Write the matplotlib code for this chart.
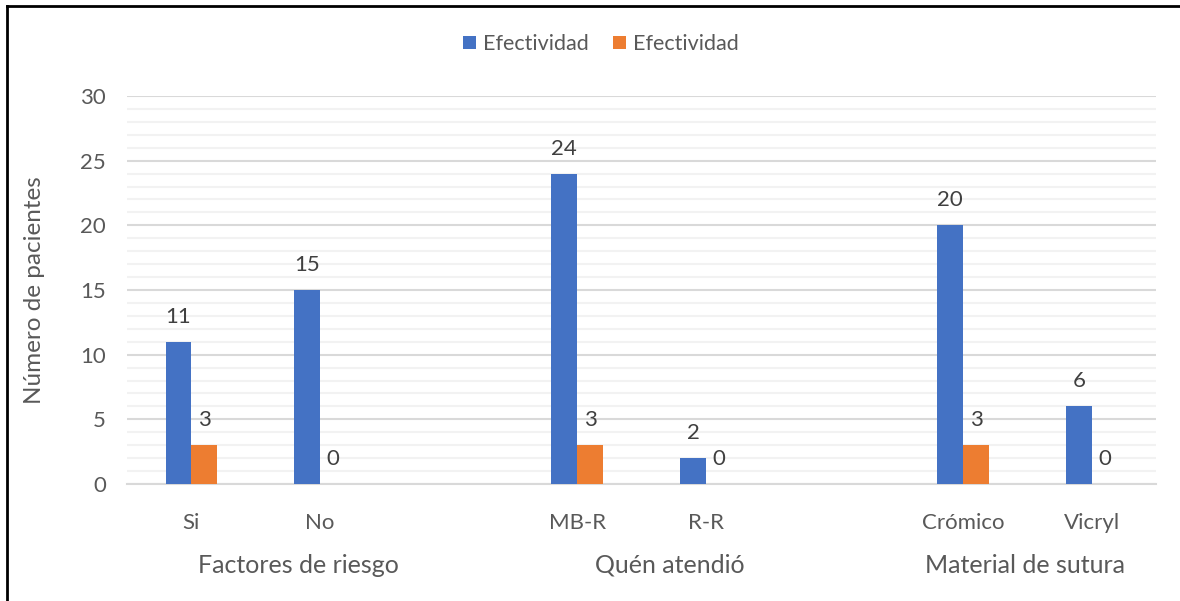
import numpy as np
import matplotlib.pyplot as plt
from matplotlib.lines import Line2D

# categories (empty slots separate the groups)
categories = ["Si", "No", "", "MB-R", "R-R", "", "Crómico", "Vicryl"]
positions = [0, 1, 3, 4, 6, 7]
blue_vals = [11, 15, 24, 2, 20, 6]
orange_vals = [3, 0, 3, 0, 3, 0]
groups = ["Factores de riesgo", "Quén atendió", "Material de sutura"]
group_x = [0.83, 3.72, 6.48]

blue = "#4472C4"
orange = "#ED7D31"
text_col = "#595959"

plt.rcParams['font.family'] = ['Lato', 'DejaVu Sans']

fig = plt.figure(figsize=(11.8, 6.01), dpi=100)
ax = fig.add_axes([0.1076, 0.1947, 0.8721, 0.6456])

w = 0.2
pos = np.array(positions)
ax.bar(pos - w / 2, blue_vals, width=w, color=blue, label="Efectividad", zorder=3)
ax.bar(pos + w / 2, orange_vals, width=w, color=orange, label="Efectividad", zorder=3)

# value labels above each bar
for x, v in zip(pos - w / 2, blue_vals):
    ax.annotate(str(v), (x, v), xytext=(0, 18), textcoords="offset points",
                ha="center", va="center", fontsize=16, color="#404040")
for x, v in zip(pos + w / 2, orange_vals):
    ax.annotate(str(v), (x, v), xytext=(0, 18), textcoords="offset points",
                ha="center", va="center", fontsize=16, color="#404040")

ax.set_xlim(-0.5, 7.5)
ax.set_ylim(0, 30)
ax.set_yticks(range(0, 31, 5))
ax.set_yticks(range(0, 31, 1), minor=True)
ax.set_xticks(range(len(categories)))
ax.set_xticklabels(categories)
ax.tick_params(axis="x", length=0, pad=21, labelsize=16, labelcolor=text_col)
ax.tick_params(axis="y", which="both", length=0, pad=15, labelsize=16, labelcolor=text_col)

ax.grid(axis="y", which="minor", color="#f2f2f2", linewidth=1.5, zorder=0)
ax.grid(axis="y", which="major", color="#d9d9d9", linewidth=1.5, zorder=1)
for s in ["top", "right", "left"]:
    ax.spines[s].set_visible(False)
ax.spines["bottom"].set_color("#d9d9d9")
ax.spines["bottom"].set_linewidth(1.5)

for gx, g in zip(group_x, groups):
    ax.text(gx, -0.209, g, transform=ax.get_xaxis_transform(), ha="center",
            va="center", fontsize=18, color=text_col)

fig.text(35 / 1180, 1 - 290 / 601, "Número de pacientes", rotation=90,
         ha="center", va="center", fontsize=17.5, color=text_col)

fig.legend(loc="center", bbox_to_anchor=(601 / 1180, 1 - 44 / 601), ncol=2,
           frameon=False, fontsize=15.5, labelcolor=text_col, handlelength=0.6,
           handleheight=0.6, handletextpad=0.35, columnspacing=1.1)

# frame lines at the top and left edge
fig.add_artist(Line2D([6.5 / 1180, 1], [1 - 5.5 / 601, 1 - 5.5 / 601],
                      transform=fig.transFigure, color="black", linewidth=2))
fig.add_artist(Line2D([6.5 / 1180, 6.5 / 1180], [0, 1 - 5.5 / 601],
                      transform=fig.transFigure, color="black", linewidth=2))

fig.savefig("out.png", dpi=100)
